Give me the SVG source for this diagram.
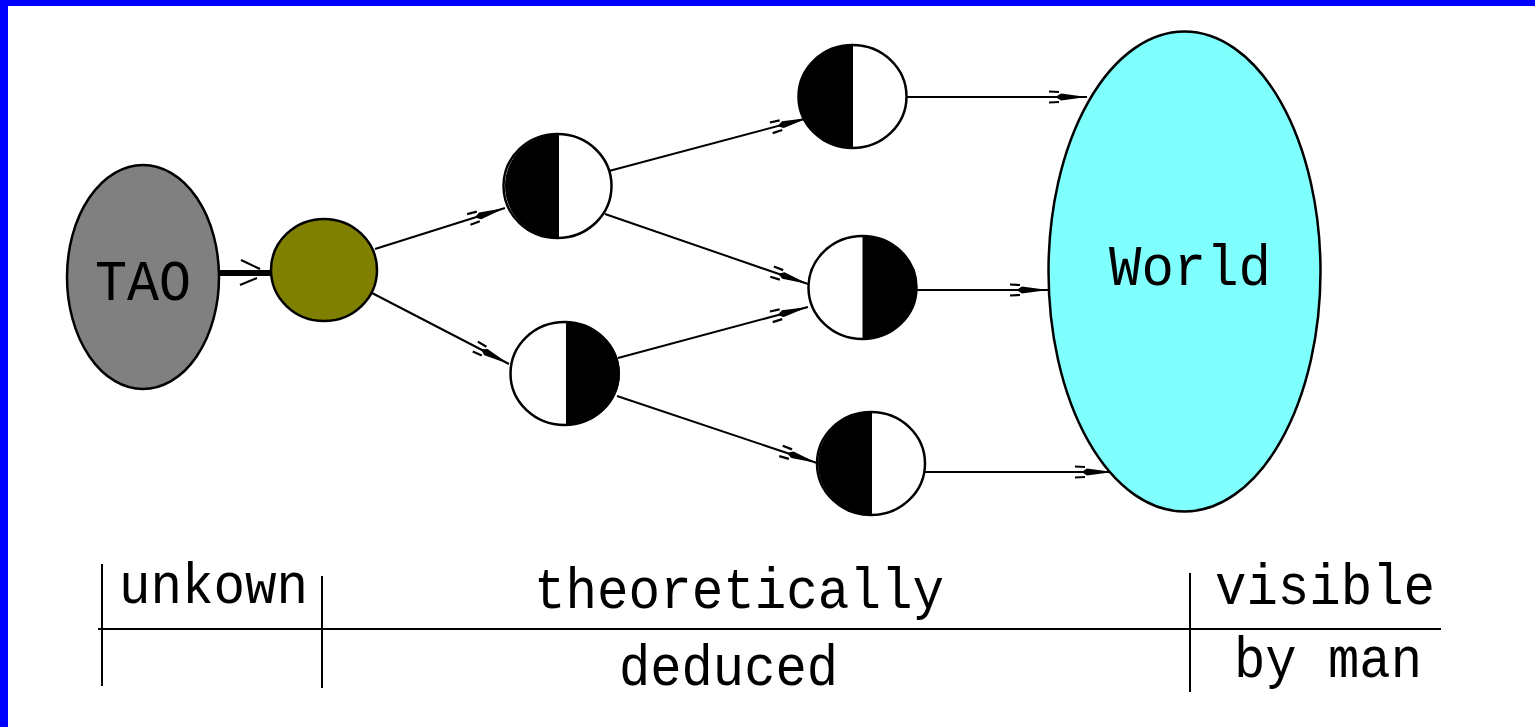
<svg xmlns="http://www.w3.org/2000/svg" width="1535" height="727" viewBox="0 0 1535 727">
<style>
.ln{stroke:#000;stroke-width:2;fill:none}
.ol{stroke:#000;stroke-width:2.5}
.t{font-family:"Liberation Mono","DejaVu Sans Mono",monospace;font-size:58px;fill:#000;text-anchor:middle}
</style>
<defs>
<marker id="arr" markerUnits="userSpaceOnUse" orient="auto" viewBox="-42 -8 44 16" refX="0" refY="0" markerWidth="44" markerHeight="16">
<path d="M0,0 L-26,-3.5 L-30,-1 L-30,1 L-26,3.5 Z" fill="#000"/>
<path d="M-28,-5 L-38,-5.5 M-28,5 L-38,5.5" stroke="#000" stroke-width="2.2" fill="none"/>
</marker>
<marker id="arrT" markerUnits="userSpaceOnUse" orient="auto" viewBox="-34 -14 36 28" refX="0" refY="0" markerWidth="36" markerHeight="28">
<path d="M-30,-13 L-11,-4 M-31,12 L-14,5" stroke="#000" stroke-width="2.2" fill="none"/>
</marker>
</defs>
<rect x="0" y="0" width="1535" height="727" fill="#fff"/>
<rect x="0" y="0" width="1535" height="6" fill="#0000ff"/>
<rect x="0" y="0" width="8" height="727" fill="#0000ff"/>

<g id="connectors">
<line x1="219" y1="273" x2="271" y2="273" stroke="#000" stroke-width="6" marker-end="url(#arrT)"/>
<line class="ln" x1="375" y1="249" x2="505" y2="208" marker-end="url(#arr)"/>
<line class="ln" x1="372" y1="293" x2="509" y2="364" marker-end="url(#arr)"/>
<line class="ln" x1="609" y1="171" x2="808" y2="118" marker-end="url(#arr)"/>
<line class="ln" x1="605" y1="214" x2="808" y2="284" marker-end="url(#arr)"/>
<line class="ln" x1="618" y1="358" x2="808" y2="307" marker-end="url(#arr)"/>
<line class="ln" x1="617" y1="396" x2="817" y2="463" marker-end="url(#arr)"/>
<line class="ln" x1="907" y1="97" x2="1087" y2="97" marker-end="url(#arr)"/>
<line class="ln" x1="917" y1="290" x2="1048" y2="290" marker-end="url(#arr)"/>
<line class="ln" x1="925" y1="472" x2="1113" y2="472" marker-end="url(#arr)"/>
</g>

<g id="tao">
<ellipse class="ol" cx="143" cy="277" rx="76" ry="112" fill="#808080"/>
<text class="t" x="143" y="300" font-size="60" textLength="96" lengthAdjust="spacingAndGlyphs">TAO</text>
</g>

<g id="origin">
<ellipse class="ol" cx="324" cy="270" rx="53" ry="51" fill="#808000"/>
</g>

<g id="nodeA">
<ellipse class="ol" cx="557.5" cy="186" rx="54" ry="52" fill="#fff"/>
<path d="M559,134 A54,52 0 0 0 559,238 Z" fill="#000"/>
</g>

<g id="nodeB">
<ellipse class="ol" cx="564.5" cy="373.5" rx="54" ry="51.5" fill="#fff"/>
<path d="M566,322 A54,51.5 0 0 1 566,425 Z" fill="#000"/>
</g>

<g id="nodeC">
<ellipse class="ol" cx="852.5" cy="96.5" rx="54" ry="51.5" fill="#fff"/>
<path d="M853,45 A54,51.5 0 0 0 853,148 Z" fill="#000"/>
</g>

<g id="nodeD">
<ellipse class="ol" cx="862.5" cy="287.5" rx="54" ry="51.5" fill="#fff"/>
<path d="M862.5,236 A54,51.5 0 0 1 862.5,339 Z" fill="#000"/>
</g>

<g id="nodeE">
<ellipse class="ol" cx="871" cy="463.5" rx="54" ry="51.5" fill="#fff"/>
<path d="M872,412 A54,51.5 0 0 0 872,515 Z" fill="#000"/>
</g>

<g id="world">
<ellipse class="ol" cx="1184.5" cy="271.5" rx="136" ry="240" fill="#80ffff"/>
<text class="t" x="1190" y="285" font-size="60" textLength="162" lengthAdjust="spacingAndGlyphs">World</text>
</g>

<g id="scale">
<line class="ln" x1="98" y1="629" x2="1441" y2="629" stroke-width="2.5"/>
<line class="ln" x1="102" y1="564" x2="102" y2="686" stroke-width="2.5"/>
<line class="ln" x1="322" y1="576" x2="322" y2="688" stroke-width="2.5"/>
<line class="ln" x1="1190" y1="573" x2="1190" y2="692" stroke-width="2.5"/>
<text class="t" x="213.5" y="603" textLength="189" lengthAdjust="spacingAndGlyphs">unkown</text>
<text class="t" x="739" y="608" textLength="410" lengthAdjust="spacingAndGlyphs">theoretically</text>
<text class="t" x="728.5" y="685" textLength="219" lengthAdjust="spacingAndGlyphs">deduced</text>
<text class="t" x="1325" y="604" textLength="220" lengthAdjust="spacingAndGlyphs">visible</text>
<text class="t" x="1328" y="677" textLength="188" lengthAdjust="spacingAndGlyphs">by man</text>
</g>
</svg>
